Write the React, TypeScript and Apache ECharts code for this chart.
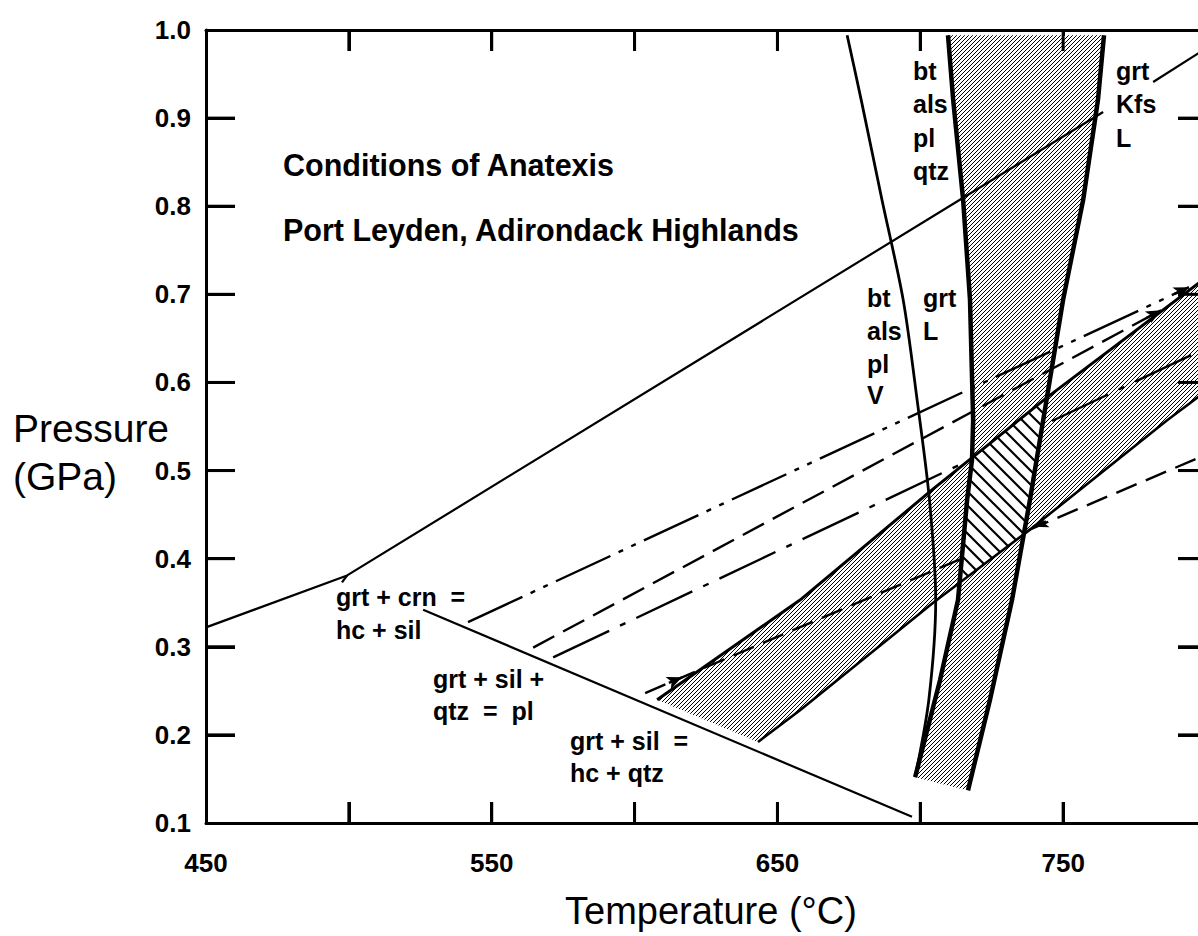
import React, { useEffect, useRef } from "react";
import * as echarts from "echarts";

type Pt = [number, number];

// ---- axis ticks / labels ----
const temperatureTicks = [500, 550, 600, 650, 700, 750];
const temperatureLabels = [450, 550, 650, 750];
const pressureTicks = [0.2, 0.3, 0.4, 0.5, 0.6, 0.7, 0.8, 0.9];
const pressureLabels = [0.1, 0.2, 0.3, 0.4, 0.5, 0.6, 0.7, 0.8, 0.9, 1.0];

// ---- reaction curves (T in °C, P in GPa) ----
const reactionUpperLeft: Pt[] = [[450, 0.322], [499.4, 0.381], [764.0, 0.907]];
const reactionUpperRight: Pt[] = [[781.5, 0.941], [800, 0.979]];
const kinkMark: Pt[] = [[499.4, 0.381], [497.6, 0.373]];
const reactionLower: Pt[] = [[526.0, 0.342], [697.1, 0.107]];

// bt + als + pl + V melting curve (thin)
const btAlsPlVCurve: Pt[] = [
  [674.4, 0.994], [679.3, 0.921], [686.6, 0.807], [694.0, 0.694], [698.9, 0.58],
  [703.2, 0.467], [705.4, 0.353], [703.0, 0.24], [698.2, 0.152],
];

// steep shaded band
const band1Left: Pt[] = [
  [709.7, 0.994], [711.5, 0.921], [715.0, 0.807], [717.4, 0.694], [718.5, 0.557],
  [718.1, 0.512], [716.4, 0.467], [713.2, 0.353], [706.9, 0.262], [698.2, 0.152],
];
const band1Right: Pt[] = [
  [764.3, 0.994], [762.2, 0.921], [757.0, 0.807], [750.0, 0.694], [743.0, 0.557],
  [738.4, 0.467], [732.1, 0.353], [724.4, 0.24], [716.7, 0.137],
];

// inclined shaded band
const band2Upper: Pt[] = [[607.9, 0.24], [657.9, 0.353], [704.1, 0.478], [744.4, 0.583], [800, 0.719]];
const band2Lower: Pt[] = [[643.2, 0.192], [657.9, 0.228], [704.5, 0.35], [738.4, 0.433], [786.4, 0.557], [800, 0.59]];

// hatched overlap field
const hatchedField: Pt[] = [[718.1, 0.515], [744.3, 0.583], [736.2, 0.428], [713.7, 0.373], [716.4, 0.467]];

// isopleths
const isoplethDashDotDot: Pt[] = [[541.7, 0.328], [794.0, 0.708]];
const isoplethDashed: Pt[] = [[564.5, 0.299], [784.3, 0.682]];
const isoplethDashDot: Pt[] = [[571.5, 0.288], [800, 0.639]];
const isoplethDashedLong: Pt[] = [[603.7, 0.2475], [800, 0.518]];
const arrowHeads: [Pt, Pt][] = [
  [[789.0, 0.7005], [794.0, 0.708]],
  [[779.0, 0.6728], [784.3, 0.682]],
  [[612.0, 0.259], [616.6, 0.2653]],
  [[744.0, 0.4423], [739.5, 0.4361]],
];

const T_MIN = 450;
const T_MAX = 800;
const P_MIN = 0.1;
const P_MAX = 1.0;

const FONT = '"Liberation Sans", Arial, Helvetica, sans-serif';

const svgUrl = (s: string) => "data:image/svg+xml;charset=utf-8," + encodeURIComponent(s);
const stipple = {
  image: svgUrl(
    '<svg xmlns="http://www.w3.org/2000/svg" width="4" height="4"><rect width="4" height="4" fill="#fff"/><path d="M-1,1 L1,-1 M0,4 L4,0 M3,5 L5,3" stroke="#000" stroke-width="1"/></svg>'
  ),
  repeat: "repeat",
  imageWidth: 4,
  imageHeight: 4,
};
const hatch = {
  image: svgUrl(
    '<svg xmlns="http://www.w3.org/2000/svg" width="14" height="14"><rect width="14" height="14" fill="#fff"/><path d="M0,0 L14,14 M-1,13 L1,15 M13,-1 L15,1" stroke="#000" stroke-width="2.2"/></svg>'
  ),
  repeat: "repeat",
  imageWidth: 14,
  imageHeight: 14,
};

function polygonSeries(pts: Pt[], fill: any, z: number) {
  return {
    type: "custom",
    coordinateSystem: "cartesian2d",
    silent: true,
    clip: true,
    z,
    data: [pts[0]],
    renderItem: (_p: any, api: any) => ({
      type: "polygon",
      shape: { points: pts.map((p) => api.coord(p)) },
      style: { fill, stroke: null, lineWidth: 0 },
    }),
  };
}

function lineSeries(data: Pt[], width: number, type: any, z: number, extra: any = {}) {
  return {
    type: "line",
    data,
    symbol: "none",
    showSymbol: false,
    silent: true,
    z,
    lineStyle: { color: "#000", width, type, cap: "butt", join: "round" },
    ...extra,
  };
}

function txt(text: string, x: number, y: number, size: number, bold = true) {
  return {
    type: "text",
    x,
    y,
    silent: true,
    z: 100,
    style: {
      text,
      fill: "#000",
      fontFamily: FONT,
      fontSize: size,
      fontWeight: bold ? "bold" : "normal",
      align: "left",
      verticalAlign: "middle",
    },
  };
}

const textElements = [
  txt("Pressure", 13, 428, 39, false),
  txt("(GPa)", 13, 476, 39, false),
  txt("Temperature (°C)", 565, 911, 38, false),
  txt("Conditions of Anatexis", 283, 165, 30.5),
  txt("Port Leyden, Adirondack Highlands", 283, 230, 30.5),
  txt("bt", 913, 71, 25),
  txt("als", 913, 104, 25),
  txt("pl", 913, 138, 25),
  txt("qtz", 913, 171, 25),
  txt("grt", 1116, 71, 25),
  txt("Kfs", 1116, 104, 25),
  txt("L", 1116, 138, 25),
  txt("bt", 867, 298, 25),
  txt("als", 867, 331, 25),
  txt("pl", 867, 364, 25),
  txt("V", 867, 395, 25),
  txt("grt", 923, 298, 25),
  txt("L", 923, 331, 25),
  txt("grt + crn  =", 336, 597, 25),
  txt("hc + sil", 336, 630, 25),
  txt("grt + sil +", 433, 679, 25),
  txt("qtz  =  pl", 433, 711, 25),
  txt("grt + sil  =", 570, 741, 25),
  txt("hc + qtz", 570, 773, 25),
];

export default function App() {
  const ref = useRef<HTMLDivElement>(null);
  useEffect(() => {
    if (!ref.current) return;
    const chart = echarts.init(ref.current, undefined, { renderer: "svg" });
    const axisLine = { show: true, onZero: false, lineStyle: { color: "#000", width: 3 } };
    const xCommon = {
      type: "value",
      min: T_MIN,
      max: T_MAX,
      interval: 50,
      splitLine: { show: false },
      axisLine,
    };
    const yCommon = {
      type: "value",
      min: P_MIN,
      max: P_MAX,
      interval: 0.1,
      splitLine: { show: false },
      axisLine,
    };
    const xTick = { show: true, inside: true, length: 21, lineStyle: { color: "#000", width: 3 } };
    const option: any = {
      animation: false,
      backgroundColor: "#fff",
      grid: { left: 206, top: 30, right: -8, bottom: 113, containLabel: false, outerBoundsMode: "none" },
      xAxis: [
        {
          ...xCommon,
          position: "bottom",
          axisTick: xTick,
          axisLabel: {
            showMinLabel: true,
            margin: 27,
            color: "#000",
            fontFamily: FONT,
            fontSize: 26,
            fontWeight: "bold",
            formatter: (v: number) => (temperatureLabels.indexOf(Math.round(v)) >= 0 ? String(Math.round(v)) : ""),
          },
        },
        {
          ...xCommon,
          position: "top",
          axisTick: xTick,
          axisLabel: { show: false },
        },
      ],
      yAxis: [
        {
          ...yCommon,
          position: "left",
          axisTick: { show: true, inside: true, length: 29, lineStyle: { color: "#000", width: 3 } },
          axisLabel: {
            margin: 15,
            color: "#000",
            fontFamily: FONT,
            fontSize: 26,
            fontWeight: "bold",
            formatter: (v: number) => {
              const s = v.toFixed(1);
              return pressureLabels.some((p) => p.toFixed(1) === s) ? s : "";
            },
          },
        },
        {
          ...yCommon,
          position: "right",
          axisTick: { show: true, inside: true, length: 28, lineStyle: { color: "#000", width: 3 } },
          axisLabel: { show: false },
        },
      ],
      series: [
        polygonSeries([...band1Left, ...band1Right.slice().reverse()], stipple, 1),
        polygonSeries([...band2Upper, ...band2Lower.slice().reverse()], stipple, 1),
        lineSeries(isoplethDashDotDot, 2.4, [60, 9, 5, 9, 5, 9], 2),
        lineSeries(isoplethDashed, 2.4, [24, 10], 2, {
          markLine: {
            silent: true,
            symbol: ["none", "arrow"],
            symbolSize: [10, 15],
            label: { show: false },
            lineStyle: { type: "solid", color: "#000", width: 2.4 },
            data: arrowHeads.map(([a, b]) => [{ coord: a }, { coord: b }]),
          },
        }),
        lineSeries(isoplethDashDot, 2.4, [62, 12, 6, 12], 2),
        lineSeries(isoplethDashedLong, 2.4, [22, 10], 2),
        polygonSeries(hatchedField, hatch, 3),
        lineSeries(reactionUpperLeft, 2.2, "solid", 4),
        lineSeries(reactionUpperRight, 2.2, "solid", 4),
        lineSeries(kinkMark, 2.2, "solid", 4),
        lineSeries(reactionLower, 2.2, "solid", 4),
        lineSeries(btAlsPlVCurve, 2.8, "solid", 4, { smooth: 0.3 }),
        lineSeries(band1Left, 4.5, "solid", 5),
        lineSeries(band1Right, 4.5, "solid", 5),
        lineSeries(band2Upper, 3, "solid", 5),
        lineSeries(band2Lower, 2.6, "solid", 5),
      ],
      graphic: textElements,
    };
    chart.setOption(option);

    // inward ticks re-drawn through the axes' own scales (overlap the axis ticks exactly)
    const finder: any = { xAxisIndex: 0, yAxisIndex: 0 };
    const ticks: any[] = [];
    const tickStyle = () => ({ stroke: "#000", lineWidth: 3 });
    temperatureTicks.forEach((t) => {
      const b = chart.convertToPixel(finder, [t, P_MIN]) as number[];
      const tp = chart.convertToPixel(finder, [t, P_MAX]) as number[];
      ticks.push({ type: "line", silent: true, z: 50, shape: { x1: b[0], y1: b[1], x2: b[0], y2: b[1] - 21 }, style: tickStyle() });
      ticks.push({ type: "line", silent: true, z: 50, shape: { x1: tp[0], y1: tp[1], x2: tp[0], y2: tp[1] + 21 }, style: tickStyle() });
    });
    pressureTicks.forEach((p) => {
      const l = chart.convertToPixel(finder, [T_MIN, p]) as number[];
      const r = chart.convertToPixel(finder, [T_MAX, p]) as number[];
      ticks.push({ type: "line", silent: true, z: 50, shape: { x1: l[0], y1: l[1], x2: l[0] + 29, y2: l[1] }, style: tickStyle() });
      ticks.push({ type: "line", silent: true, z: 50, shape: { x1: r[0], y1: r[1], x2: r[0] - 28, y2: r[1] }, style: tickStyle() });
    });
    chart.setOption({ graphic: [...textElements, ...ticks] });
    return () => chart.dispose();
  }, []);
  return (
    <div
      ref={ref}
      style={{ position: "fixed", left: 0, top: 0, width: 1198, height: 936, background: "#fff" }}
    />
  );
}
